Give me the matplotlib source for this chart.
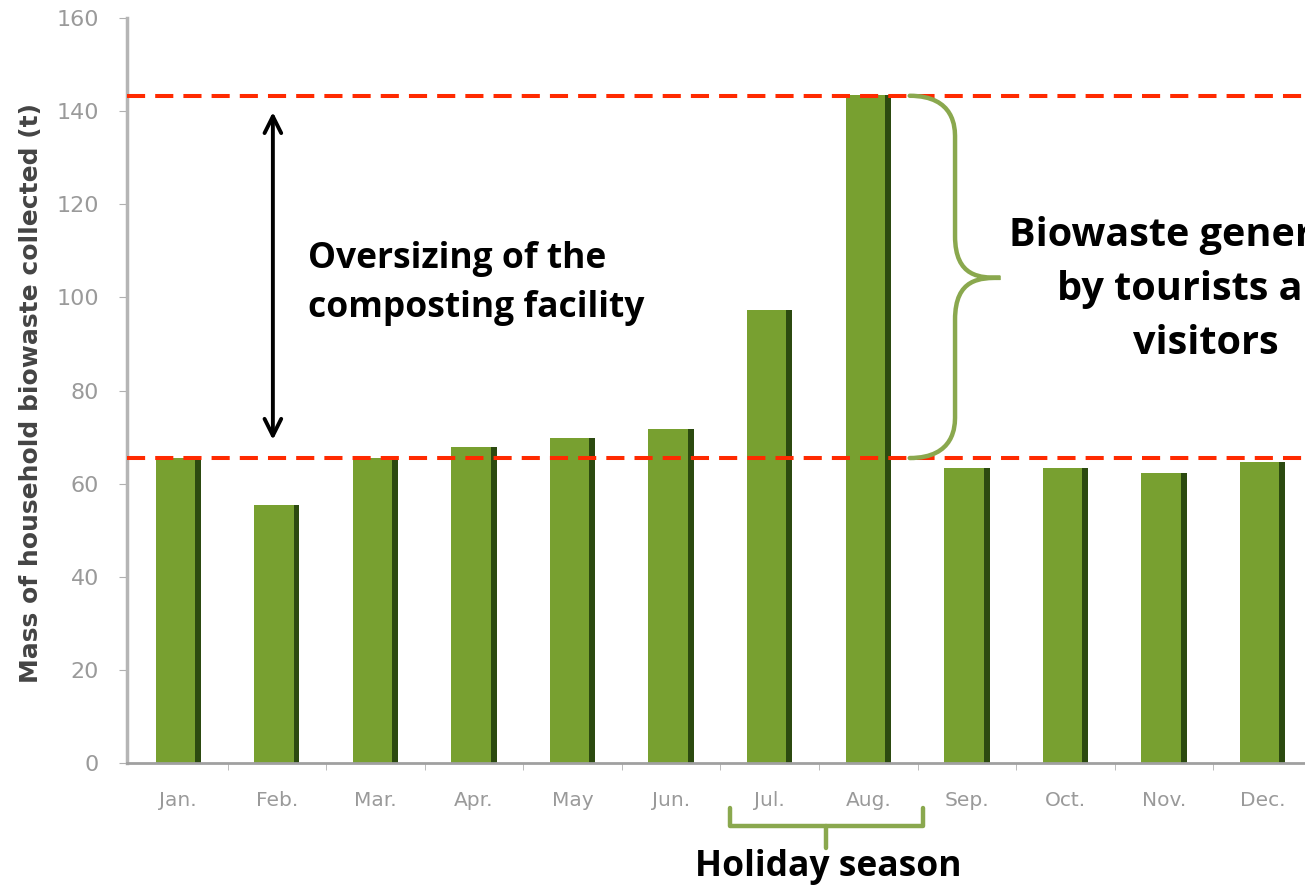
import matplotlib.pyplot as plt
import numpy as np
from matplotlib.path import Path
from matplotlib.patches import PathPatch

# monthly household biowaste collected (t)
months = ['Jan.', 'Feb.', 'Mar.', 'Apr.', 'May', 'Jun.', 'Jul.', 'Aug.', 'Sep.', 'Oct.', 'Nov.', 'Dec.']
mass = [65.5, 55.4, 65.5, 67.9, 69.8, 71.7, 97.3, 143.5, 63.4, 63.4, 62.3, 64.6]
base_level = 65.5   # lower red line
peak_level = 143.3  # upper red line
y_ticks = [0, 20, 40, 60, 80, 100, 120, 140, 160]

BAR = '#78a030'
SHADE = '#2c4a10'
RED = '#ff2a00'
BRACE = '#8aa84e'
TICK = '#9a9a9a'

fig = plt.figure(figsize=(13.05, 8.92), dpi=100)
ax = fig.add_axes([0.0973, 0.1446, 0.9027, 0.8352])

x = np.arange(len(months))
w = 0.46
ax.bar(x, mass, width=w, color=BAR, zorder=2)
# dark edge on the right side of each bar
ax.bar(x + w / 2 - 0.03, mass, width=0.06, color=SHADE, zorder=2)

ax.set_xlim(-0.52, 11.43)
ax.set_ylim(0, 160)
ax.set_yticks(y_ticks)
ax.set_xticks(x)
ax.set_xticklabels(months)
ax.set_xticks(x[:-1] + 0.5, minor=True)
ax.tick_params(axis='x', which='major', length=0, pad=20, labelsize=14.5, labelcolor=TICK)
ax.tick_params(axis='x', which='minor', length=5, color='#b0b0b0', direction='out')
ax.tick_params(axis='y', length=6, color='#b0b0b0', labelsize=16, labelcolor=TICK, pad=14)
for s in ['top', 'right']:
    ax.spines[s].set_visible(False)
ax.spines['left'].set_color('#b5b5b5')
ax.spines['left'].set_linewidth(2.5)
ax.spines['bottom'].set_color('#a0a0a0')
ax.spines['bottom'].set_linewidth(2)
ax.set_ylabel('Mass of household biowaste collected (t)', fontsize=18,
              fontweight='bold', color='#444444')
ax.yaxis.set_label_coords(-0.071, 0.497)

# red dashed reference lines
for lvl in [base_level, peak_level]:
    ax.axhline(lvl, color=RED, lw=2.9, linestyle=(0, (4.5, 2.5)), zorder=3)

# double arrow: oversizing
ax.annotate('', xy=(0.96, 139.8), xytext=(0.96, 69.4),
            arrowprops=dict(arrowstyle='<->', lw=2.8, color='black',
                            mutation_scale=30, shrinkA=0, shrinkB=0))
ax.text(1.32, 103.0, 'Oversizing of the\ncomposting facility', fontsize=25.5,
        fontweight='bold', family='Open Sans', ha='left', va='center',
        linespacing=1.5)

# curly brace right of August
xa, xb, xc = 7.42, 7.88, 8.34
ym = 104.2
top, bot = peak_level, base_level
verts = [(xa, top), (xb, top), (xb, top - 7), (xb, top - 9),
         (xb, ym + 9),
         (xb, ym), (xc - 0.2, ym), (xc, ym),
         (xc - 0.2, ym), (xb, ym), (xb, ym - 9),
         (xb, bot + 9),
         (xb, bot + 7), (xb, bot), (xa, bot)]
codes = [Path.MOVETO, Path.CURVE4, Path.CURVE4, Path.CURVE4,
         Path.LINETO,
         Path.CURVE4, Path.CURVE4, Path.CURVE4,
         Path.CURVE4, Path.CURVE4, Path.CURVE4,
         Path.LINETO,
         Path.CURVE4, Path.CURVE4, Path.CURVE4]
ax.add_patch(PathPatch(Path(verts, codes), fill=False, ec=BRACE, lw=3.2,
                       zorder=4, capstyle='round'))
# the reference cuts this label at the right edge of the picture
ax.text(10.42, 101.6, 'Biowaste generated\nby tourists and\nvisitors', fontsize=28.5,
        fontweight='bold', family='Open Sans', ha='center', va='center',
        linespacing=1.5, clip_on=False)

# holiday season bracket under Jul./Aug.
hx = [5.60, 5.60, 7.55, 7.55]
hy = [-9.7, -13.5, -13.5, -9.7]
ax.plot(hx, hy, color=BRACE, lw=3.2, clip_on=False, solid_joinstyle='round',
        solid_capstyle='round')
ax.plot([6.57, 6.57], [-13.5, -18.3], color=BRACE, lw=3.2, clip_on=False,
        solid_capstyle='round')
ax.text(6.59, -22.3, 'Holiday season', fontsize=25.5, fontweight='bold',
        family='Open Sans', ha='center', va='center', clip_on=False)

fig.savefig('out.png', dpi=100)
